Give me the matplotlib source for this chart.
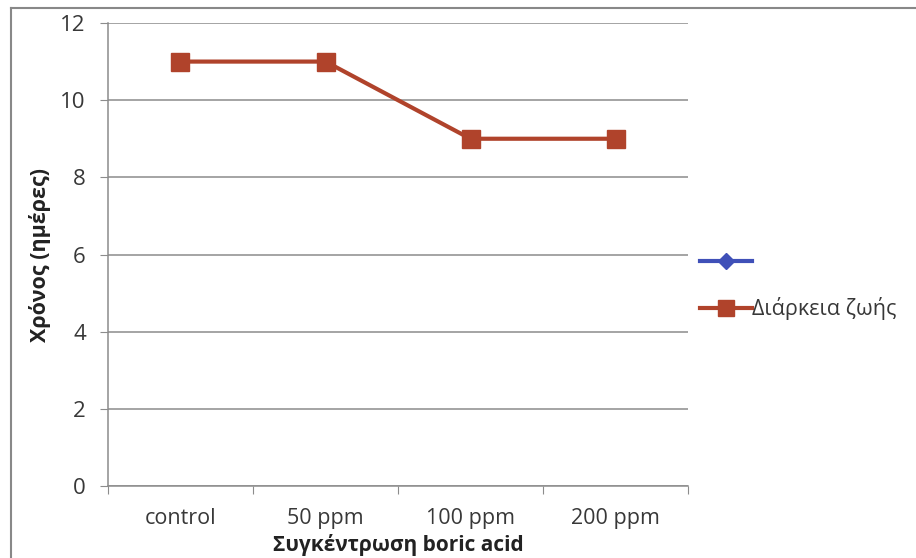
import matplotlib
matplotlib.use('Agg')
import matplotlib.pyplot as plt
from matplotlib.lines import Line2D
import numpy as np

# lifespan (days) at each boric acid concentration
concentrations = ['control', '50 ppm', '100 ppm', '200 ppm']
lifespan = [11, 11, 9, 9]
lifespan_label = 'Διάρκεια ζωής'
y_ticks = [0, 2, 4, 6, 8, 10, 12]

plt.rcParams['font.family'] = ['Open Sans', 'DejaVu Sans']

red = '#B0432B'
blue = '#3F50B8'
grid_grey = '#8C8C8C'

fig = plt.figure(figsize=(9.16, 5.58), dpi=100)
ax = fig.add_axes([0.1179, 0.1290, 0.6332, 0.8298])

x = np.arange(len(concentrations))
ax.plot(x, lifespan, color=red, lw=3, marker='s', ms=13,
        markerfacecolor=red, markeredgecolor=red)

ax.set_xlim(-0.5, len(concentrations) - 0.5)
ax.set_ylim(0, 12)
ax.set_yticks(y_ticks)
ax.yaxis.grid(True, color=grid_grey, lw=1.1)
ax.set_axisbelow(True)

# category boundary ticks, labels in the middle of each category
ax.set_xticks(np.arange(len(concentrations) + 1) - 0.5)
ax.set_xticklabels([])
ax.set_xticks(x, minor=True)
ax.set_xticklabels(concentrations, minor=True, fontsize=15.5, color='#383838')
ax.tick_params(axis='x', which='major', length=6, color=grid_grey, direction='out')
ax.tick_params(axis='x', which='minor', length=0, pad=16)
ax.tick_params(axis='y', length=6, color=grid_grey, pad=10, labelsize=16,
               labelcolor='#383838')

for side in ['top', 'right']:
    ax.spines[side].set_visible(False)
for side in ['left', 'bottom']:
    ax.spines[side].set_color(grid_grey)
    ax.spines[side].set_linewidth(1.1)

ax.set_xlabel('Συγκέντρωση boric acid', fontsize=15, fontweight='bold',
              color='#222222')
ax.xaxis.set_label_coords(0.5, -0.103)
ax.set_ylabel('Χρόνος (ημέρες)', fontsize=15.5, fontweight='bold',
              color='#222222', labelpad=7)

# legend: empty blue series plus the lifespan series
h_blue = Line2D([], [], color=blue, lw=3, marker='D', ms=8,
                markerfacecolor=blue, markeredgecolor=blue)
h_red = Line2D([], [], color=red, lw=3, marker='s', ms=11,
               markerfacecolor=red, markeredgecolor=red)
fig.legend([h_blue, h_red], ['', lifespan_label], loc='center left',
           bbox_to_anchor=(0.743, 0.487), frameon=False, fontsize=15.5,
           handlelength=2.4, handletextpad=0.0, labelspacing=1.1,
           labelcolor='#383838')

# outer chart frame (left and top edges)
fig.add_artist(Line2D([11 / 916, 11 / 916], [0, 1 - 8 / 558],
                      transform=fig.transFigure, color='#888888', lw=1.5))
fig.add_artist(Line2D([11 / 916, 1], [1 - 8 / 558, 1 - 8 / 558],
                      transform=fig.transFigure, color='#888888', lw=1.5))

fig.savefig('out.png', dpi=100)
